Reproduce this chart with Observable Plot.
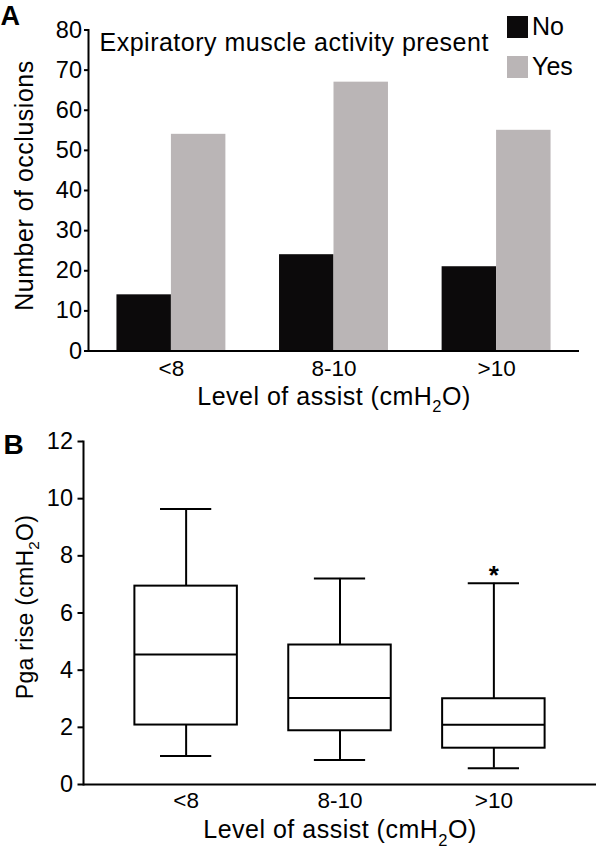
<!DOCTYPE html>
<html>
<head>
<meta charset="utf-8">
<script src="https://cdn.jsdelivr.net/npm/d3@7"></script>
<script src="https://cdn.jsdelivr.net/npm/@observablehq/plot@0.6"></script>
<style>
  html, body { margin: 0; padding: 0; background: #fff; }
  #wrap { position: relative; width: 596px; height: 849px; font-family: "Liberation Sans", Arial, sans-serif; color: #000; }
  #wrap svg { display: block; }
  .sw { position: absolute; width: 21px; height: 22px; }
  .lt { position: absolute; font-size: 25px; line-height: 1; white-space: nowrap; }
</style>
</head>
<body>
<div id="wrap"></div>
<script>
// ---------- data ----------
const categories = ["<8", "8-10", ">10"];
const occlusionsNo = [14, 24, 21];
const occlusionsYes = [54, 67, 55];
const yTicksA = [0, 10, 20, 30, 40, 50, 60, 70, 80];
const seriesNames = ["No", "Yes"];

const pgaMin = [1.0, 0.86, 0.57];
const pgaQ1 = [2.08, 1.88, 1.27];
const pgaMedian = [4.55, 3.03, 2.09];
const pgaQ3 = [6.94, 4.88, 3.0];
const pgaMax = [9.64, 7.21, 7.04];
const yTicksB = [0, 2, 4, 6, 8, 10, 12];
const significant = [">10"];

const titleA = "Expiratory muscle activity present";
const yLabelA = "Number of occlusions";
const yLabelB = "Pga rise (cmH₂O)";
const xLabel = "Level of assist (cmH₂O)";

// ---------- styles ----------
const W = 596;
const colorNo = "#0c0a0b";
const colorYes = "#bab5b6";
const font = "'Liberation Sans', Arial, sans-serif";
const spacing = new Map([[titleA, "0.5px"], [yLabelA, "0.5px"], [xLabel, "0.5px"], [yLabelB, "0.3px"]]);

const wrap = document.getElementById("wrap");

// ---------- Panel A ----------
const A = {height: 420, ml: 88, mr: 17, mt: 29.5, mb: 69.5, pi: 0.33, po: 0.175};
const bwA = d3.scaleBand().domain(categories).range([A.ml, W - A.mr])
  .paddingInner(A.pi).paddingOuter(A.po).bandwidth();
const barsA = categories.map((c, i) => ({level: c, no: occlusionsNo[i], yes: occlusionsYes[i]}));

const plotA = Plot.plot({
  width: W, height: A.height,
  marginLeft: A.ml, marginRight: A.mr, marginTop: A.mt, marginBottom: A.mb,
  style: {fontFamily: font, fontSize: "22px", background: "#fff", color: "#000", overflow: "visible"},
  x: {type: "band", domain: categories, paddingInner: A.pi, paddingOuter: A.po, round: false},
  y: {domain: [0, 80]},
  marks: [
    Plot.barY(barsA, {x: "level", y: "no", fill: colorNo, insetRight: bwA / 2}),
    Plot.barY(barsA, {x: "level", y: "yes", fill: colorYes, insetLeft: bwA / 2}),
    Plot.axisY({ticks: yTicksA, tickSize: 4, tickPadding: 2.5, strokeWidth: 2, fontSize: 23.5, label: null}),
    Plot.axisX({tickSize: 0, tickPadding: 9, fontSize: 22.5, label: null}),
    Plot.ruleY([0], {strokeWidth: 2}),
    Plot.frame({anchor: "left", strokeWidth: 2}),
    Plot.text([titleA], {frameAnchor: "top-left", dx: 11, dy: 21.2, lineAnchor: "bottom", textAnchor: "start", fontSize: 25}),
    Plot.text([yLabelA], {frameAnchor: "left", dx: -56, dy: -5, rotate: -90, lineAnchor: "bottom", textAnchor: "middle", fontSize: 25}),
    Plot.text([xLabel], {frameAnchor: "bottom", dy: 53.5, lineAnchor: "bottom", textAnchor: "middle", fontSize: 25}),
    Plot.text(["A"], {frameAnchor: "top-left", dx: -88, dy: -5.5, lineAnchor: "bottom", textAnchor: "start", fontSize: 27, fontWeight: "bold"})
  ]
});
wrap.appendChild(plotA);

// legend (HTML overlay)
const legendColors = [colorNo, colorYes];
const legendTops = [16, 56];
seriesNames.forEach((name, i) => {
  const sw = document.createElement("div");
  sw.className = "sw";
  sw.style.left = "507px";
  sw.style.top = legendTops[i] + "px";
  sw.style.background = legendColors[i];
  wrap.appendChild(sw);
  const t = document.createElement("div");
  t.className = "lt";
  t.style.left = "532px";
  t.style.top = (legendTops[i] + 19 - 21.2) + "px";
  t.textContent = name;
  wrap.appendChild(t);
});

// ---------- Panel B ----------
const B = {height: 429, ml: 83, mr: 0, mt: 21, mb: 65, pad: 0.334};
const bwB = d3.scaleBand().domain(categories).range([B.ml, W - B.mr]).padding(B.pad).bandwidth();
const boxes = categories.map((c, i) => ({
  level: c, min: pgaMin[i], q1: pgaQ1[i], median: pgaMedian[i], q3: pgaQ3[i], max: pgaMax[i]
}));
const stars = boxes.filter(d => significant.includes(d.level));

const plotB = Plot.plot({
  width: W, height: B.height,
  marginLeft: B.ml, marginRight: B.mr, marginTop: B.mt, marginBottom: B.mb,
  style: {fontFamily: font, fontSize: "22px", background: "#fff", color: "#000", overflow: "visible"},
  x: {type: "band", domain: categories, padding: B.pad, round: false},
  y: {domain: [0, 12]},
  marks: [
    Plot.ruleX(boxes, {x: "level", y1: "min", y2: "q1", strokeWidth: 2}),
    Plot.ruleX(boxes, {x: "level", y1: "q3", y2: "max", strokeWidth: 2}),
    Plot.barY(boxes, {x: "level", y1: "q1", y2: "q3", fill: "#fff", stroke: "#000", strokeWidth: 2}),
    Plot.tickY(boxes, {x: "level", y: "median", strokeWidth: 2}),
    Plot.tickY(boxes, {x: "level", y: "min", strokeWidth: 2, inset: bwB / 4}),
    Plot.tickY(boxes, {x: "level", y: "max", strokeWidth: 2, inset: bwB / 4}),
    Plot.text(stars, {x: "level", y: "max", text: () => "*", lineAnchor: "bottom", dy: 1, fontSize: 26, fontWeight: "bold"}),
    Plot.axisY({ticks: yTicksB, tickSize: 5.5, tickPadding: 5, strokeWidth: 2, fontSize: 23.5, label: null}),
    Plot.axisX({tickSize: 0, tickPadding: 8, fontSize: 22.5, label: null}),
    Plot.ruleY([0], {strokeWidth: 2}),
    Plot.frame({anchor: "left", strokeWidth: 2}),
    Plot.text([yLabelB], {frameAnchor: "left", dx: -51, dy: -6, rotate: -90, lineAnchor: "bottom", textAnchor: "middle", fontSize: 23}),
    Plot.text([xLabel], {frameAnchor: "bottom", dy: 53.5, lineAnchor: "bottom", textAnchor: "middle", fontSize: 25}),
    Plot.text(["B"], {frameAnchor: "top-left", dx: -80, dy: 12, lineAnchor: "bottom", textAnchor: "start", fontSize: 28, fontWeight: "bold"})
  ]
});
wrap.appendChild(plotB);

// ---------- letter spacing and subscript "2" in cmH2O ----------
function finishTexts(svg) {
  svg.querySelectorAll("text").forEach(t => {
    const s = t.textContent;
    if (spacing.has(s)) t.style.letterSpacing = spacing.get(s);
    if (!s.includes("₂")) return;
    const fs = parseFloat(getComputedStyle(t).fontSize) || 22;
    const [a, b] = s.split("₂");
    while (t.firstChild) t.removeChild(t.firstChild);
    const ns = "http://www.w3.org/2000/svg";
    const t1 = document.createElementNS(ns, "tspan"); t1.textContent = a;
    const t2 = document.createElementNS(ns, "tspan"); t2.textContent = "2";
    t2.setAttribute("font-size", (fs * 0.66).toFixed(1)); t2.setAttribute("dy", (fs * 0.3).toFixed(1));
    const t3 = document.createElementNS(ns, "tspan"); t3.textContent = b;
    t3.setAttribute("dy", (-fs * 0.3).toFixed(1));
    t.appendChild(t1); t.appendChild(t2); t.appendChild(t3);
  });
}
finishTexts(plotA);
finishTexts(plotB);
</script>
</body>
</html>
